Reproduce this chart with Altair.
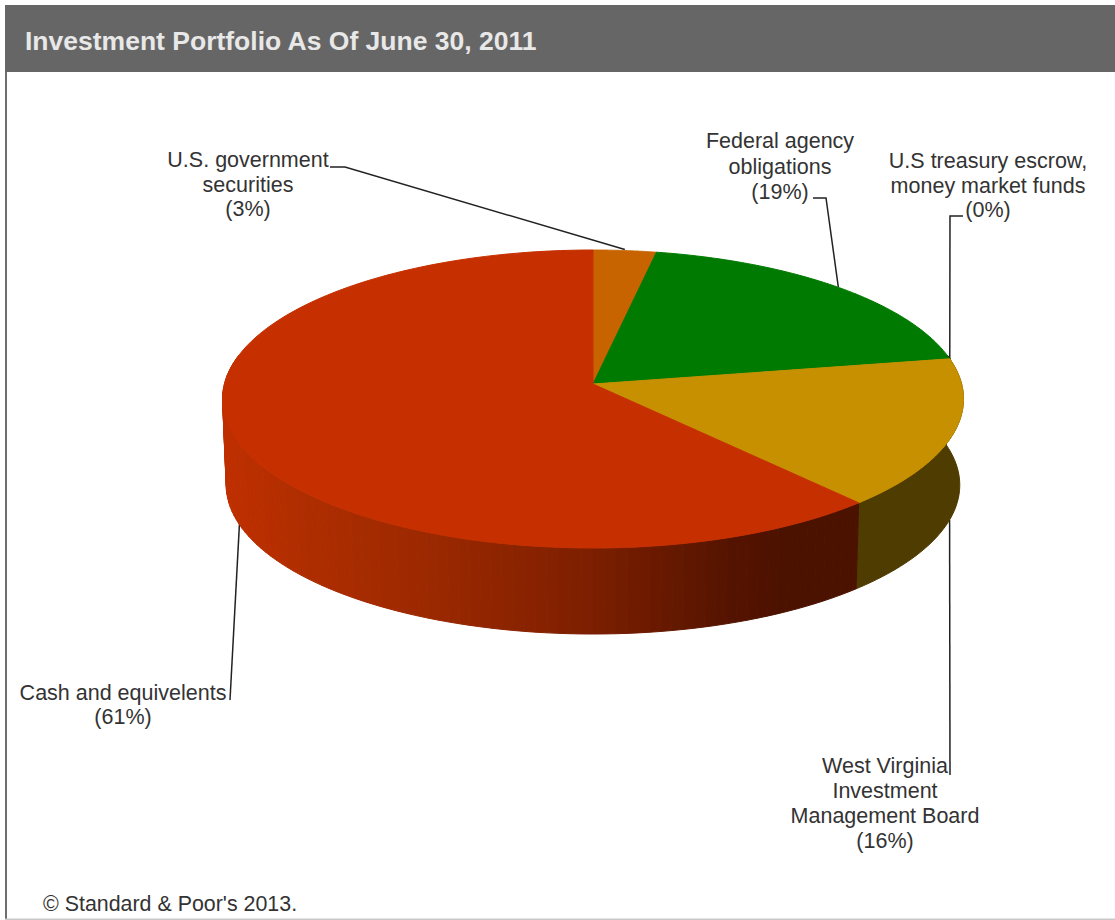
import altair as alt
import numpy as np
import pandas as pd

# Portfolio shares, clockwise from twelve o'clock
names = ["U.S. government securities", "Federal agency obligations",
         "U.S treasury escrow, money market funds",
         "West Virginia Investment Management Board", "Cash and equivelents"]
shares = [3, 19, 0, 16, 61]
top_colors = ["#C86400", "#007A00", "#C48A00", "#C79000", "#C63000"]
wall_colors = [None, None, None, "#4F3C00", None]
label_lines = [["U.S. government", "securities"],
               ["Federal agency", "obligations"],
               ["U.S treasury escrow,", "money market funds"],
               ["West Virginia", "Investment", "Management Board"],
               ["Cash and equivelents"]]
label_x = [248, 780, 988, 885, 123]
label_y = [161, 142, 162, 767, 694]
line_gap = [24.5, 25.5, 24.5, 25, 24]
title = "Investment Portfolio As Of June 30, 2011"
credit = "© Standard & Poor's 2013."

W, H = 1115, 920
APEX_X, APEX_Y = 593, 384
A, B, E = 368.6, 147.5, 0.1007   # perspective disc parameters
DEPTH, SHRINK = 86, 0.99


def top_point(theta):
    d = 1 + E * np.cos(theta)
    return APEX_X + A * np.sin(theta) / d, APEX_Y - B * np.cos(theta) / d


def bottom_point(theta):
    d = 1 + E * np.cos(theta)
    return (APEX_X + SHRINK * A * np.sin(theta) / d,
            APEX_Y + DEPTH - B * np.cos(theta) / d)


edges = np.concatenate([[0], np.cumsum(shares)]) / sum(shares) * 2 * np.pi

polys = []


def add_poly(pid, layer, color, xs, ys):
    for i, (x, y) in enumerate(zip(xs, ys)):
        polys.append(dict(pid=pid, layer=layer, color=color, i=i, x=float(x), y=float(y)))


def cash_wall_color(x):
    stops_x = [222, 300, 450, 593, 730, 790, 853]
    r = np.interp(x, stops_x, [0xC0, 0xB0, 0x98, 0x7C, 0x55, 0x4C, 0x4C])
    g = np.interp(x, stops_x, [0x30, 0x2E, 0x28, 0x1F, 0x14, 0x12, 0x12])
    return "#%02X%02X00" % (int(r), int(g))


# Side walls of the disc, in narrow bands so the shading steps along x
k = 0
for s in range(len(shares)):
    t0, t1 = edges[s], edges[s + 1]
    lo, hi = max(t0, np.pi / 2 - 0.2), min(t1, 3 * np.pi / 2 + 0.2)
    if hi <= lo:
        continue
    if wall_colors[s]:
        th = np.linspace(lo, hi, 40)
        tx, ty = top_point(th)
        bx, by = bottom_point(th)
        add_poly(f"w{k:03d}", 0, wall_colors[s],
                 np.concatenate([tx, bx[::-1], tx[:1]]),
                 np.concatenate([ty, by[::-1], ty[:1]]))
        k += 1
    else:
        th = np.linspace(lo, hi, 90)
        for a, b in zip(th[:-1], th[1:]):
            ax, ay = top_point(a)
            bx, by = top_point(b)
            cx, cy = bottom_point(b)
            dx, dy = bottom_point(a)
            add_poly(f"w{k:03d}", 0, cash_wall_color((ax + bx) / 2),
                     [ax, bx, cx, dx, ax], [ay, by, cy, dy, ay])
            k += 1

# Top faces
for s in range(len(shares)):
    if shares[s] == 0:
        continue
    th = np.linspace(edges[s], edges[s + 1], 120)
    tx, ty = top_point(th)
    add_poly(f"t{s}", 1, top_colors[s],
             np.concatenate([[APEX_X], tx, [APEX_X]]), np.concatenate([[APEX_Y], ty, [APEX_Y]]))

polys = pd.DataFrame(polys)

# Leader lines: from the slice (or its wall) out to the label
mid = (edges[:-1] + edges[1:]) / 2
ax0, ay0 = top_point(mid[0])
ax1, ay1 = top_point(mid[1])
ax2, ay2 = top_point(edges[2])
ax3, ay3 = bottom_point(mid[3])
ax4, ay4 = bottom_point(mid[4])
leaders = pd.DataFrame(
    [dict(g=0, i=0, x=ax0, y=ay0 - 1), dict(g=0, i=1, x=345, y=167), dict(g=0, i=2, x=330, y=167),
     dict(g=1, i=0, x=ax1, y=ay1), dict(g=1, i=1, x=826, y=198), dict(g=1, i=2, x=813, y=198),
     dict(g=2, i=0, x=ax2, y=ay2), dict(g=2, i=1, x=950, y=216), dict(g=2, i=2, x=963, y=216),
     dict(g=3, i=0, x=ax3, y=ay3), dict(g=3, i=1, x=950, y=775),
     dict(g=4, i=0, x=ax4, y=ay4), dict(g=4, i=1, x=230, y=700)])

texts = []
for s, lines in enumerate(label_lines):
    rows = lines + [f"({shares[s]}%)"]
    for j, t in enumerate(rows):
        texts.append(dict(t=t, x=label_x[s], y=label_y[s] + j * line_gap[s]))
texts = pd.DataFrame(texts)

X = alt.X("x:Q", scale=alt.Scale(domain=[0, W]), axis=None)
Y = alt.Y("y:Q", scale=alt.Scale(domain=[H, 0]), axis=None)

frame = pd.DataFrame([
    dict(x=5, x2=W, y=5, y2=72, c="#666666"),
    dict(x=5, x2=7, y=72, y2=H, c="#6E6E6E"),
    dict(x=5, x2=W, y=918.5, y2=H, c="#C8C8C8"),
])
frame_layer = alt.Chart(frame).mark_rect().encode(
    x=X, x2="x2:Q", y=Y, y2="y2:Q", color=alt.Color("c:N", scale=None))

faces = alt.Chart(polys).mark_line(strokeWidth=1).encode(
    x=X, y=Y, order="i:Q", detail="pid:N",
    fill=alt.Fill("color:N", scale=None),
    stroke=alt.Stroke("color:N", scale=None))
walls = faces.transform_filter("datum.layer == 0")
tops = faces.transform_filter("datum.layer == 1")

leader_layer = alt.Chart(leaders).mark_line(color="#222222", strokeWidth=1.5).encode(
    x=X, y=Y, order="i:Q", detail="g:N")

label_layer = alt.Chart(texts).mark_text(
    font="Liberation Sans", fontSize=21.5, color="#333333", align="center", baseline="middle"
).encode(x=X, y=Y, text="t:N")

title_layer = alt.Chart(pd.DataFrame([dict(t=title, x=25, y=42)])).mark_text(
    font="Liberation Sans", fontSize=26.5, fontWeight="bold", color="#E8E8E8", align="left", baseline="middle"
).encode(x=X, y=Y, text="t:N")

credit_layer = alt.Chart(pd.DataFrame([dict(t=credit, x=43, y=905)])).mark_text(
    font="Liberation Sans", fontSize=21.4, color="#333333", align="left", baseline="middle"
).encode(x=X, y=Y, text="t:N")

chart = alt.layer(
    frame_layer, leader_layer, walls, tops, label_layer, title_layer, credit_layer
).properties(
    width=W, height=H, padding=0, autosize=alt.AutoSizeParams(type="none"), background="white"
).configure_view(stroke=None)

chart.save("out.html", embed_options={"renderer": "svg", "actions": False})
